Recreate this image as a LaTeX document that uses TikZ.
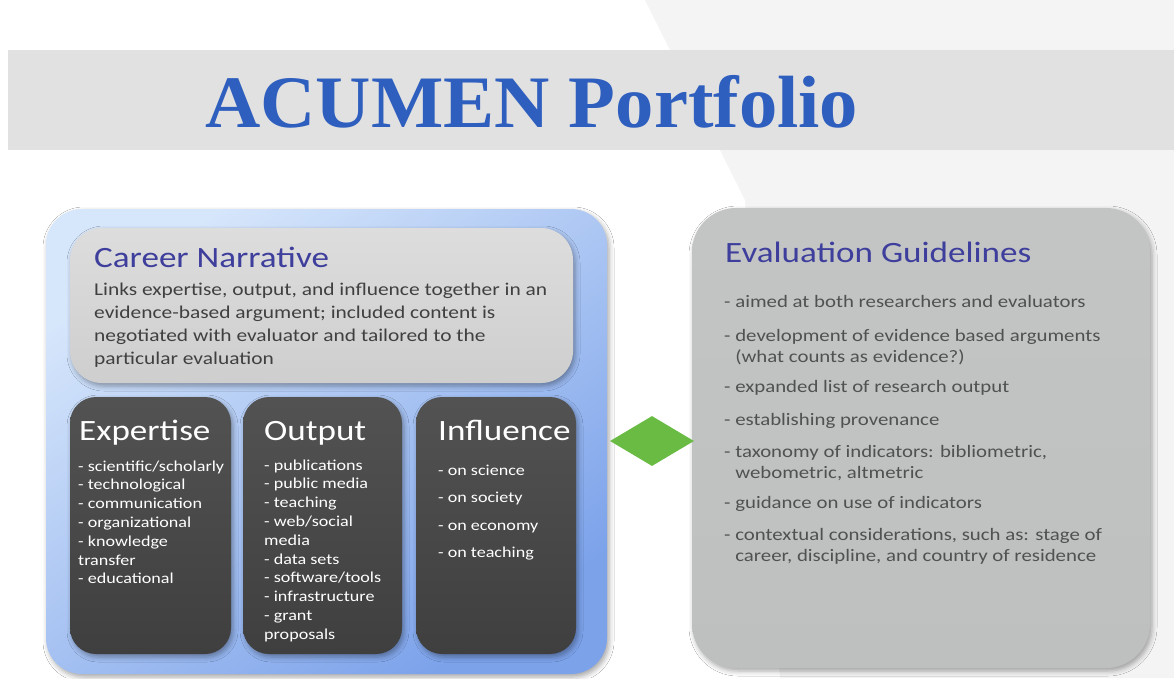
\documentclass[tikz,border=0pt]{standalone}
\usepackage{fontspec}
\usepackage{graphicx}
\setmainfont{Liberation Serif}
\newfontfamily\calfont{Carlito}
\usetikzlibrary{shapes.geometric,shadows.blur}
\definecolor{titleblue}{RGB}{46,94,190}
\definecolor{bandgray}{RGB}{225,225,225}
\definecolor{bgright}{RGB}{244,244,244}
\definecolor{headblue}{RGB}{62,62,156}
\definecolor{bodygray}{RGB}{64,64,64}
\definecolor{evalgray}{RGB}{80,82,82}
\definecolor{cardgray}{RGB}{217,217,217}
\definecolor{darkbox}{RGB}{63,63,63}
\definecolor{evalbox}{RGB}{190,192,192}
\definecolor{lightblue}{RGB}{214,230,251}
\definecolor{midblue}{RGB}{124,162,234}
\definecolor{diagreen}{RGB}{105,187,68}
\newcommand{\stx}[1]{\scalebox{1.19}[1]{\begin{tabular}[t]{@{}l@{}}#1\end{tabular}}}
\begin{document}
\begin{tikzpicture}[x=1pt,y=-1pt,
  boxshadow/.style={blur shadow={shadow xshift=2pt,shadow yshift=-3pt,shadow blur radius=5pt,shadow opacity=35}},
  panel/.style={rectangle,inner sep=0pt,boxshadow},
  label/.style={inner sep=0pt,anchor=base west},
  headtxt/.style={label,text=headblue,font=\calfont\fontsize{29.5}{35}\selectfont},
  boxhead/.style={label,text=white,font=\calfont\fontsize{29.5}{35}\selectfont},
  boxitem/.style={label,text=white,font=\calfont\fontsize{15.2}{18.8}\selectfont},
  infitem/.style={label,text=white,font=\calfont\fontsize{15.2}{27.5}\selectfont},
  bodytxt/.style={label,text=bodygray,font=\calfont\fontsize{18}{23}\selectfont},
  evaltxt/.style={label,text=evalgray,font=\calfont\fontsize{17.5}{21.5}\selectfont}]
\useasboundingbox (0,0) rectangle (1174,678);
\fill[white] (0,0) rectangle (1174,678);
% faint background facets
\fill[bgright] (645,0) -- (1174,0) -- (1174,678) -- (780,678) -- (745,200) -- cycle;
\fill[bandgray] (8,50) rectangle (1174,150);
\node[inner sep=0pt,anchor=base west,text=titleblue,font=\bfseries\fontsize{74}{80}\selectfont] (title) at (205,127) {\scalebox{1.035}[1]{ACUMEN Portfolio}};

% left portfolio panel
\node[panel,rounded corners=36pt,minimum width=561pt,minimum height=465pt,
  top color=lightblue,bottom color=midblue,shading angle=35] (portfolio) at (326.5,441.5) {};
\node[panel,rounded corners=32pt,minimum width=503pt,minimum height=155pt,
  top color=cardgray!90!white,bottom color=cardgray!95!black] (career) at (321.5,305.5) {};
\node[panel,rounded corners=26pt,minimum width=161pt,minimum height=257pt,
  top color=darkbox!90!white,bottom color=darkbox] (expertise) at (150.5,525.5) {};
\node[panel,rounded corners=26pt,minimum width=159pt,minimum height=257pt,
  top color=darkbox!90!white,bottom color=darkbox] (output) at (322.5,525.5) {};
\node[panel,rounded corners=26pt,minimum width=160pt,minimum height=257pt,
  top color=darkbox!90!white,bottom color=darkbox] (influence) at (496,525.5) {};

% right guidelines panel
\node[panel,rounded corners=44pt,minimum width=458pt,minimum height=460pt,
  top color=evalbox!92!white,bottom color=evalbox] (guidelines) at (921,438) {};

% connector diamond
\node[diamond,fill=diagreen,draw=none,inner sep=0pt,minimum width=84pt,minimum height=50pt,aspect=1.68] (link) at (652,441) {};

% career narrative text
\node[headtxt] (careerhead) at (94,267) {\stx{Career Narrative}};
\node[bodytxt] (careerbody) at (94,295) {\stx{Links expertise, output, and influence together in an\\
evidence-based argument; included content is\\
negotiated with evaluator and tailored to the\\
particular evaluation}};

% three columns
\node[boxhead] (exphead) at (79,440) {\stx{Expertise}};
\node[boxitem] (explist) at (78,471) {\stx{- scientific/scholarly\\- technological\\- communication\\- organizational\\- knowledge\\transfer\\- educational}};
\node[boxhead] (outhead) at (264,440) {\stx{Output}};
\node[boxitem] (outlist) at (264,470) {\stx{- publications\\- public media\\- teaching\\- web/social\\media\\- data sets\\- software/tools\\- infrastructure\\- grant\\proposals}};
\node[boxhead] (infhead) at (438,440) {\stx{Influence}};
\node[infitem] (inflist) at (438,475) {\stx{- on science\\- on society\\- on economy\\- on teaching}};

% evaluation guidelines text
\node[headtxt] (evalhead) at (725,262) {\stx{Evaluation Guidelines}};
\node[evaltxt] (g1) at (724,307) {\stx{- aimed at both researchers and evaluators}};
\node[evaltxt] (g2) at (724,341) {\stx{- development of evidence based arguments\\\phantom{- }(what counts as evidence?)}};
\node[evaltxt] (g3) at (724,392) {\stx{- expanded list of research output}};
\node[evaltxt] (g4) at (724,425) {\stx{- establishing provenance}};
\node[evaltxt] (g5) at (724,457) {\stx{- taxonomy of indicators: bibliometric,\\\phantom{- }webometric, altmetric}};
\node[evaltxt] (g6) at (724,508) {\stx{- guidance on use of indicators}};
\node[evaltxt] (g7) at (724,540) {\stx{- contextual considerations, such as: stage of\\\phantom{- }career, discipline, and country of residence}};
\end{tikzpicture}
\end{document}
